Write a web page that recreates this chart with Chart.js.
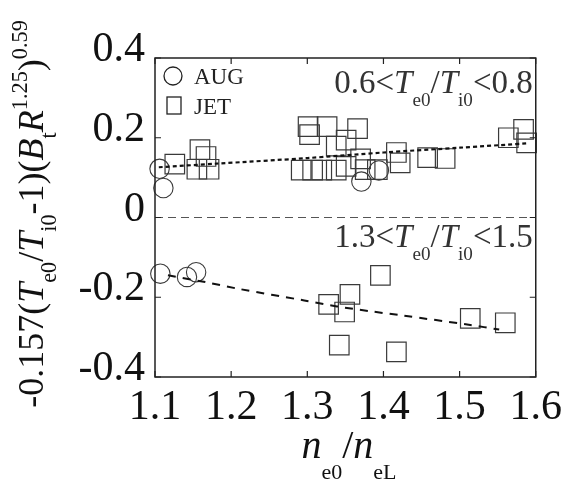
<!DOCTYPE html>
<html>
<head>
<meta charset="utf-8">
<script src="https://cdn.jsdelivr.net/npm/chart.js@4.4.1/dist/chart.umd.min.js"></script>
<style>
  html, body { margin: 0; padding: 0; background: #fff; }
  #box { width: 568px; height: 486px; }
</style>
</head>
<body>
<div id="box"><canvas id="grafico"></canvas></div>
<script>
// dati: rapporto ne0/neL e valore normalizzato
const augUpX = [1.106, 1.111, 1.371, 1.394];
const augUpY = [0.122, 0.074, 0.090, 0.118];
const jetUpX = [1.126, 1.159, 1.167, 1.155, 1.171,
                1.301, 1.326, 1.303, 1.366, 1.351, 1.338, 1.370,
                1.292, 1.307, 1.319, 1.338, 1.351, 1.376, 1.392,
                1.417, 1.422, 1.458, 1.481, 1.564, 1.584, 1.588];
const jetUpY = [0.134, 0.170, 0.153, 0.121, 0.121,
                0.228, 0.228, 0.208, 0.223, 0.194, 0.179, 0.147,
                0.119, 0.119, 0.119, 0.119, 0.128, 0.120, 0.120,
                0.163, 0.137, 0.150, 0.148, 0.200, 0.221, 0.187];
const augLowX = [1.107, 1.142, 1.154];
const augLowY = [-0.141, -0.149, -0.137];
const jetLowX = [1.328, 1.356, 1.349, 1.396, 1.342, 1.417, 1.514, 1.560];
const jetLowY = [-0.218, -0.193, -0.237, -0.145, -0.320, -0.337, -0.253, -0.264];
// linee di fit
const fitUpX = [1.105, 1.18, 1.30, 1.40, 1.50, 1.59];
const fitUpY = [0.126, 0.135, 0.149, 0.163, 0.175, 0.186];
const fitLowX = [1.117, 1.166, 1.21, 1.296, 1.339, 1.382, 1.426, 1.512, 1.552];
const fitLowY = [-0.145, -0.162, -0.179, -0.208, -0.223, -0.235, -0.246, -0.269, -0.281];
const xTicks = [1.1, 1.2, 1.3, 1.4, 1.5, 1.6];
const yTicks = [-0.4, -0.2, 0, 0.2, 0.4];

const SERIF = '"Liberation Serif", "DejaVu Serif", serif';

function punti(xs, ys) { return xs.map((x, i) => ({ x: x, y: ys[i] })); }

// scrive testo con pedici / apici / corsivo
function testoRicco(ctx, parti, x, y, size, align, opz) {
    opz = opz || {};
    const small = size * (opz.ratio || 0.62);
    const giu = size * (opz.sub || 0.36);
    const su = size * (opz.sup || 0.42);
    let w = 0;
    parti.forEach(p => {
        const fs = p.s ? small : size;
        ctx.font = (p.i ? 'italic ' : '') + fs + 'px ' + SERIF;
        p.w = ctx.measureText(p.t).width;
        w += p.w;
    });
    let cx = align === 'right' ? x - w : (align === 'center' ? x - w / 2 : x);
    parti.forEach(p => {
        const fs = p.s ? small : size;
        ctx.font = (p.i ? 'italic ' : '') + fs + 'px ' + SERIF;
        let dy = 0;
        if (p.s === 'sub') dy = giu;
        if (p.s === 'sup') dy = -su;
        ctx.fillText(p.t, cx, y + dy);
        cx += p.w;
    });
}

const decorazioni = {
    id: 'decorazioni',
    afterDraw(chart) {
        const ctx = chart.ctx;
        const a = chart.chartArea;
        const sx = chart.scales.x, sy = chart.scales.y;
        ctx.save();
        // linea dello zero
        ctx.strokeStyle = '#555';
        ctx.lineWidth = 1;
        ctx.setLineDash([8, 5]);
        const y0 = sy.getPixelForValue(0);
        ctx.beginPath(); ctx.moveTo(a.left, y0); ctx.lineTo(a.right, y0); ctx.stroke();
        ctx.setLineDash([]);
        // cornice e tacche interne
        ctx.strokeStyle = '#222';
        ctx.lineWidth = 1.5;
        ctx.strokeRect(a.left, a.top, a.right - a.left, a.bottom - a.top);
        ctx.lineWidth = 1.2;
        const L = 6;
        xTicks.forEach(v => {
            const px = sx.getPixelForValue(v);
            ctx.beginPath();
            ctx.moveTo(px, a.bottom); ctx.lineTo(px, a.bottom - L);
            ctx.moveTo(px, a.top); ctx.lineTo(px, a.top + L);
            ctx.stroke();
        });
        yTicks.forEach(v => {
            const py = sy.getPixelForValue(v);
            ctx.beginPath();
            ctx.moveTo(a.left, py); ctx.lineTo(a.left + L, py);
            ctx.moveTo(a.right, py); ctx.lineTo(a.right - L, py);
            ctx.stroke();
        });
        // legenda
        ctx.fillStyle = '#222';
        ctx.textBaseline = 'alphabetic';
        ctx.strokeStyle = '#222';
        ctx.lineWidth = 1.3;
        ctx.beginPath(); ctx.arc(a.left + 18, a.top + 18, 9, 0, Math.PI * 2); ctx.stroke();
        ctx.strokeRect(a.left + 12, a.top + 39, 14, 17);
        ctx.font = '23px ' + SERIF;
        ctx.textAlign = 'left';
        ctx.fillText('AUG', a.left + 39, a.top + 26);
        ctx.fillText('JET', a.left + 39, a.top + 56);
        // annotazioni
        ctx.fillStyle = '#333';
        const opzAnn = { ratio: 0.58, sub: 0.4 };
        testoRicco(ctx, [{ t: '0.6<' }, { t: 'T', i: 1 }, { t: 'e0', s: 'sub' }, { t: '/' },
            { t: 'T', i: 1 }, { t: 'i0', s: 'sub' }, { t: '<0.8' }], a.right - 3, 93, 33, 'right', opzAnn);
        testoRicco(ctx, [{ t: '1.3<' }, { t: 'T', i: 1 }, { t: 'e0', s: 'sub' }, { t: '/' },
            { t: 'T', i: 1 }, { t: 'i0', s: 'sub' }, { t: '<1.5' }], a.right - 3, 247, 33, 'right', opzAnn);
        // titolo asse x
        ctx.fillStyle = '#111';
        testoRicco(ctx, [{ t: 'n', i: 1 }, { t: 'e0', s: 'sub' }, { t: '/' },
            { t: 'n', i: 1 }, { t: 'eL', s: 'sub' }], 349, 458, 40, 'center', { ratio: 0.55, sub: 0.52 });
        // titolo asse y (ruotato)
        ctx.save();
        ctx.translate(43, 214);
        ctx.rotate(-Math.PI / 2);
        testoRicco(ctx, [{ t: '-0.157(' }, { t: 'T', i: 1 }, { t: 'e0', s: 'sub' }, { t: '/' },
            { t: 'T', i: 1 }, { t: 'i0', s: 'sub' }, { t: '-1)(' }, { t: 'B', i: 1 }, { t: 't', s: 'sub' },
            { t: 'R', i: 1 }, { t: '1.25', s: 'sup' }, { t: ')' }, { t: '0.59', s: 'sup' }], 0, 0, 36, 'center',
            { ratio: 0.62, sub: 0.36, sup: 0.45 });
        ctx.restore();
        ctx.restore();
    }
};

const ctx = document.getElementById('grafico').getContext('2d');
new Chart(ctx, {
    type: 'scatter',
    data: {
        datasets: [
            {
                label: 'fit alto', type: 'line', data: punti(fitUpX, fitUpY),
                borderColor: '#111', borderWidth: 2.2, borderDash: [4, 3],
                pointRadius: 0, fill: false, tension: 0.3
            },
            {
                label: 'fit basso', type: 'line', data: punti(fitLowX, fitLowY),
                borderColor: '#111', borderWidth: 2, borderDash: [8, 7],
                pointRadius: 0, fill: false, tension: 0.3
            },
            {
                label: 'JET', data: punti(jetUpX, jetUpY).concat(punti(jetLowX, jetLowY)),
                pointStyle: 'rect', pointRadius: 13.8, borderColor: '#3a3a3a',
                backgroundColor: 'rgba(0,0,0,0)', borderWidth: 1.2
            },
            {
                label: 'AUG', data: punti(augUpX, augUpY).concat(punti(augLowX, augLowY)),
                pointStyle: 'circle', pointRadius: 9.7, borderColor: '#3a3a3a',
                backgroundColor: 'rgba(0,0,0,0)', borderWidth: 1.1
            }
        ]
    },
    options: {
        responsive: true,
        maintainAspectRatio: false,
        animation: false,
        clip: false,
        layout: { padding: { top: 58, right: 28, left: 0, bottom: 0 } },
        plugins: { legend: { display: false }, tooltip: { enabled: false } },
        scales: {
            x: {
                type: 'linear', min: 1.1, max: 1.6,
                afterBuildTicks: s => { s.ticks = xTicks.map(v => ({ value: v })); },
                afterFit: s => { s.height = 109; },
                grid: { display: false, drawTicks: false },
                border: { display: false },
                ticks: {
                    color: '#111', padding: 6, maxRotation: 0,
                    font: { family: SERIF, size: 42 },
                    callback: v => Number(v).toFixed(1)
                }
            },
            y: {
                type: 'linear', min: -0.4, max: 0.4,
                afterBuildTicks: s => { s.ticks = yTicks.map(v => ({ value: v })); },
                afterFit: s => { s.width = 155; },
                grid: { display: false, drawTicks: false },
                border: { display: false },
                ticks: {
                    color: '#111', padding: 10, labelOffset: -8,
                    font: { family: SERIF, size: 42 },
                    callback: v => (Math.abs(v) < 1e-9 ? '0' : String(Number(v.toFixed(1))))
                }
            }
        }
    },
    plugins: [decorazioni]
});
</script>
</body>
</html>
